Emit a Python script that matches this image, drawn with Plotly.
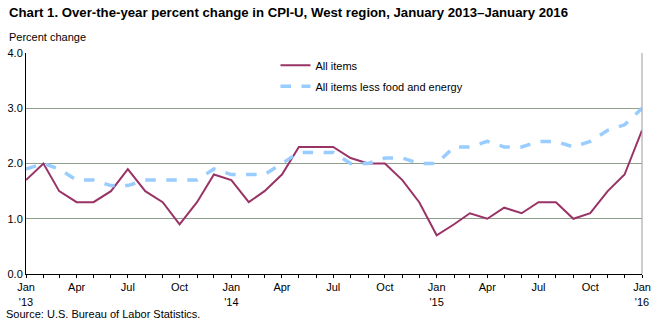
import plotly.graph_objects as go
import pandas as pd

months = pd.date_range("2013-01-01", "2016-01-01", freq="MS")
all_items = [1.7, 2.0, 1.5, 1.3, 1.3, 1.5, 1.9, 1.5, 1.3, 0.9, 1.3, 1.8,
             1.7, 1.3, 1.5, 1.8, 2.3, 2.3, 2.3, 2.1, 2.0, 2.0, 1.7, 1.3,
             0.7, 0.9, 1.1, 1.0, 1.2, 1.1, 1.3, 1.3, 1.0, 1.1, 1.5, 1.8,
             2.6]
core = [1.9, 2.0, 1.9, 1.7, 1.7, 1.6, 1.6, 1.7, 1.7, 1.7, 1.7, 1.9,
        1.8, 1.8, 1.8, 2.0, 2.2, 2.2, 2.2, 2.0, 2.0, 2.1, 2.1, 2.0,
        2.0, 2.3, 2.3, 2.4, 2.3, 2.3, 2.4, 2.4, 2.3, 2.4, 2.6, 2.7,
        3.0]
month_abbr = {1: "Jan", 4: "Apr", 7: "Jul", 10: "Oct"}
tick_text = []
for d in months:
    if d.month == 1:
        tick_text.append("Jan<br>'" + str(d.year)[2:])
    elif d.month in month_abbr:
        tick_text.append(month_abbr[d.month])
    else:
        tick_text.append("")

fig = go.Figure()
fig.add_trace(go.Scatter(x=months, y=all_items, mode="lines", name="All items",
                         legendgroup="a",
                         line=dict(color="#993366", width=2)))
fig.add_trace(go.Scatter(x=months, y=core, mode="lines", name="All items less food and energy",
                         legendgroup="b",
                         line=dict(color="#99CCFF", width=3.5, dash="dash")))

font = "Arial, Liberation Sans, sans-serif"
fig.update_layout(
    width=659, height=326,
    margin=dict(l=26, r=17, t=53, b=52),
    paper_bgcolor="white", plot_bgcolor="white",
    font=dict(family=font, size=11, color="black"),
    showlegend=True,
    legend=dict(x=0.405, y=1.01, xanchor="left", yanchor="top",
                bgcolor="rgba(0,0,0,0)", font=dict(size=11),
                traceorder="grouped", tracegroupgap=2, itemwidth=30),
    xaxis=dict(range=[months[0], months[-1]], tickvals=list(months), ticktext=tick_text,
               ticks="outside", ticklen=3, tickcolor="black", showgrid=False,
               showline=True, linecolor="black", linewidth=1, tickangle=0,
               tickfont=dict(size=11), automargin=False),
    yaxis=dict(range=[0, 4], dtick=1, tickformat=".1f", showgrid=True,
               gridcolor="#8FA08F", gridwidth=1, zeroline=False,
               showline=True, linecolor="black", linewidth=1, ticks="",
               tickfont=dict(size=11), automargin=False),
    shapes=[dict(type="line", xref="paper", yref="paper", x0=1, x1=1, y0=0, y1=1,
                 line=dict(color="#9A9A9A", width=1))],
    annotations=[
        dict(text="<b>Chart 1. Over-the-year percent change in CPI-U, West region, January 2013–January 2016</b>",
             xref="paper", yref="paper", x=-19/616, y=1 + 40/221, xanchor="left", yanchor="middle",
             showarrow=False, font=dict(size=13.2, family=font)),
        dict(text="Percent change", xref="paper", yref="paper", x=-19/616, y=1 + 16/221,
             xanchor="left", yanchor="middle", showarrow=False, font=dict(size=11, family=font)),
        dict(text="Source: U.S. Bureau of Labor Statistics.", xref="paper", yref="paper",
             x=-22/616, y=-40/221, xanchor="left", yanchor="middle", showarrow=False,
             font=dict(size=11, family=font)),
    ],
)
fig.write_html("out.html")
